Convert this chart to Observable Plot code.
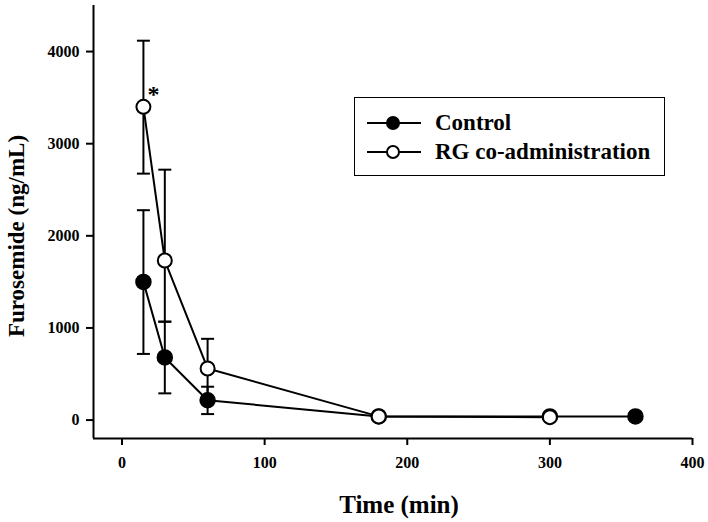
<!DOCTYPE html>
<html>
<head>
<meta charset="utf-8">
<script src="https://cdn.jsdelivr.net/npm/d3@7"></script>
<script src="https://cdn.jsdelivr.net/npm/@observablehq/plot@0.6"></script>
<style>
  body { margin: 0; background: #fff; }
  #wrap { position: relative; width: 708px; height: 522px; font-family: "Liberation Serif", "Times New Roman", serif; }
  #wrap svg text { font-family: "Liberation Serif", "Times New Roman", serif; font-weight: bold; fill: #000; }
  #legend { position: absolute; left: 354px; top: 97px; width: 309px; height: 77px; border: 1.5px solid #000; background: #fff; }
  #legend .row { position: absolute; left: 12px; height: 28px; display: flex; align-items: center; font-weight: bold; font-size: 23px; color: #000; }
  #legend svg { margin-right: 14px; }
</style>
</head>
<body>
<div id="wrap"><div id="legend"></div></div>
<script>
const times = [15, 30, 60, 180, 300, 360];
const controlMean = [1500, 680, 215, 40, 40, 40];
const controlLo = [718, 290, 65, 40, 40, 40];
const controlHi = [2278, 1068, 362, 40, 40, 40];
const rgTimes = [15, 30, 60, 180, 300];
const rgMean = [3400, 1732, 560, 40, 32];
const rgLo = [2675, 1068, 240, 40, 32];
const rgHi = [4118, 2718, 882, 40, 32];
const xTicks = [0, 100, 200, 300, 400];
const yTicks = [0, 1000, 2000, 3000, 4000];
const seriesNames = ["Control", "RG co-administration"];

const control = times.map((t, i) => ({t, m: controlMean[i], lo: controlLo[i], hi: controlHi[i]}));
const rg = rgTimes.map((t, i) => ({t, m: rgMean[i], lo: rgLo[i], hi: rgHi[i]}));
const errs = [...control, ...rg].filter(d => d.hi > d.m);

const cap = {draw(ctx, size) { const r = Math.sqrt(size / Math.PI); ctx.moveTo(-r, 0); ctx.lineTo(r, 0); }};

const serif = "Liberation Serif, Times New Roman, serif";

const chart = Plot.plot({
  width: 708,
  height: 522,
  marginLeft: 93,
  marginTop: 5,
  marginRight: 16,
  marginBottom: 84,
  style: {fontFamily: serif, background: "#fff", color: "#000"},
  x: {domain: [-20, 400]},
  y: {domain: [-200, 4500]},
  marks: [
    Plot.ruleX([-20], {stroke: "#000", strokeWidth: 2}),
    Plot.ruleY([-200], {stroke: "#000", strokeWidth: 2}),
    Plot.axisY({ticks: yTicks, tickSize: 7, tickPadding: 7, tickFormat: d => String(d), fontSize: 16, fontWeight: "bold", strokeWidth: 2, label: null}),
    Plot.axisX({ticks: xTicks, tickSize: 7, tickPadding: 11, tickFormat: d => String(d), fontSize: 16, fontWeight: "bold", strokeWidth: 2, label: null}),
    Plot.text(["Furosemide (ng/mL)"], {frameAnchor: "left", textAnchor: "middle", dx: -77, dy: 14, rotate: -90, fontSize: 23, fontWeight: "bold", fill: "#000"}),
    Plot.text(["Time (min)"], {frameAnchor: "bottom", dx: 6, dy: 74, fontSize: 25, fontWeight: "bold", fill: "#000"}),
    Plot.ruleX(errs, {x: "t", y1: "lo", y2: "hi", stroke: "#000", strokeWidth: 2}),
    Plot.dot(errs, {x: "t", y: "hi", symbol: cap, r: 6.5, stroke: "#000", strokeWidth: 2}),
    Plot.dot(errs, {x: "t", y: "lo", symbol: cap, r: 6.5, stroke: "#000", strokeWidth: 2}),
    Plot.line(control, {x: "t", y: "m", stroke: "#000", strokeWidth: 2}),
    Plot.line(rg, {x: "t", y: "m", stroke: "#000", strokeWidth: 2}),
    Plot.dot(control, {x: "t", y: "m", r: 7.5, fill: "#000", stroke: "#000", strokeWidth: 1.5}),
    Plot.dot(rg, {x: "t", y: "m", r: 7, fill: "#fff", stroke: "#000", strokeWidth: 2}),
    Plot.text(rg.slice(0, 1), {x: "t", y: "m", text: () => "*", dx: 10, dy: -13, fontSize: 24, fontWeight: "bold", fill: "#000"})
  ]
});
document.getElementById("wrap").prepend(chart);

const legend = document.getElementById("legend");
seriesNames.forEach((name, i) => {
  const row = document.createElement("div");
  row.className = "row";
  row.style.top = (i === 0 ? 11 : 40) + "px";
  const fill = i === 0 ? "#000" : "#fff";
  row.innerHTML = `<svg width="54" height="16"><line x1="0" x2="54" y1="8" y2="8" stroke="#000" stroke-width="2"/><circle cx="26" cy="8" r="6" fill="${fill}" stroke="#000" stroke-width="2"/></svg><span>${name}</span>`;
  legend.appendChild(row);
});
</script>
</body>
</html>
